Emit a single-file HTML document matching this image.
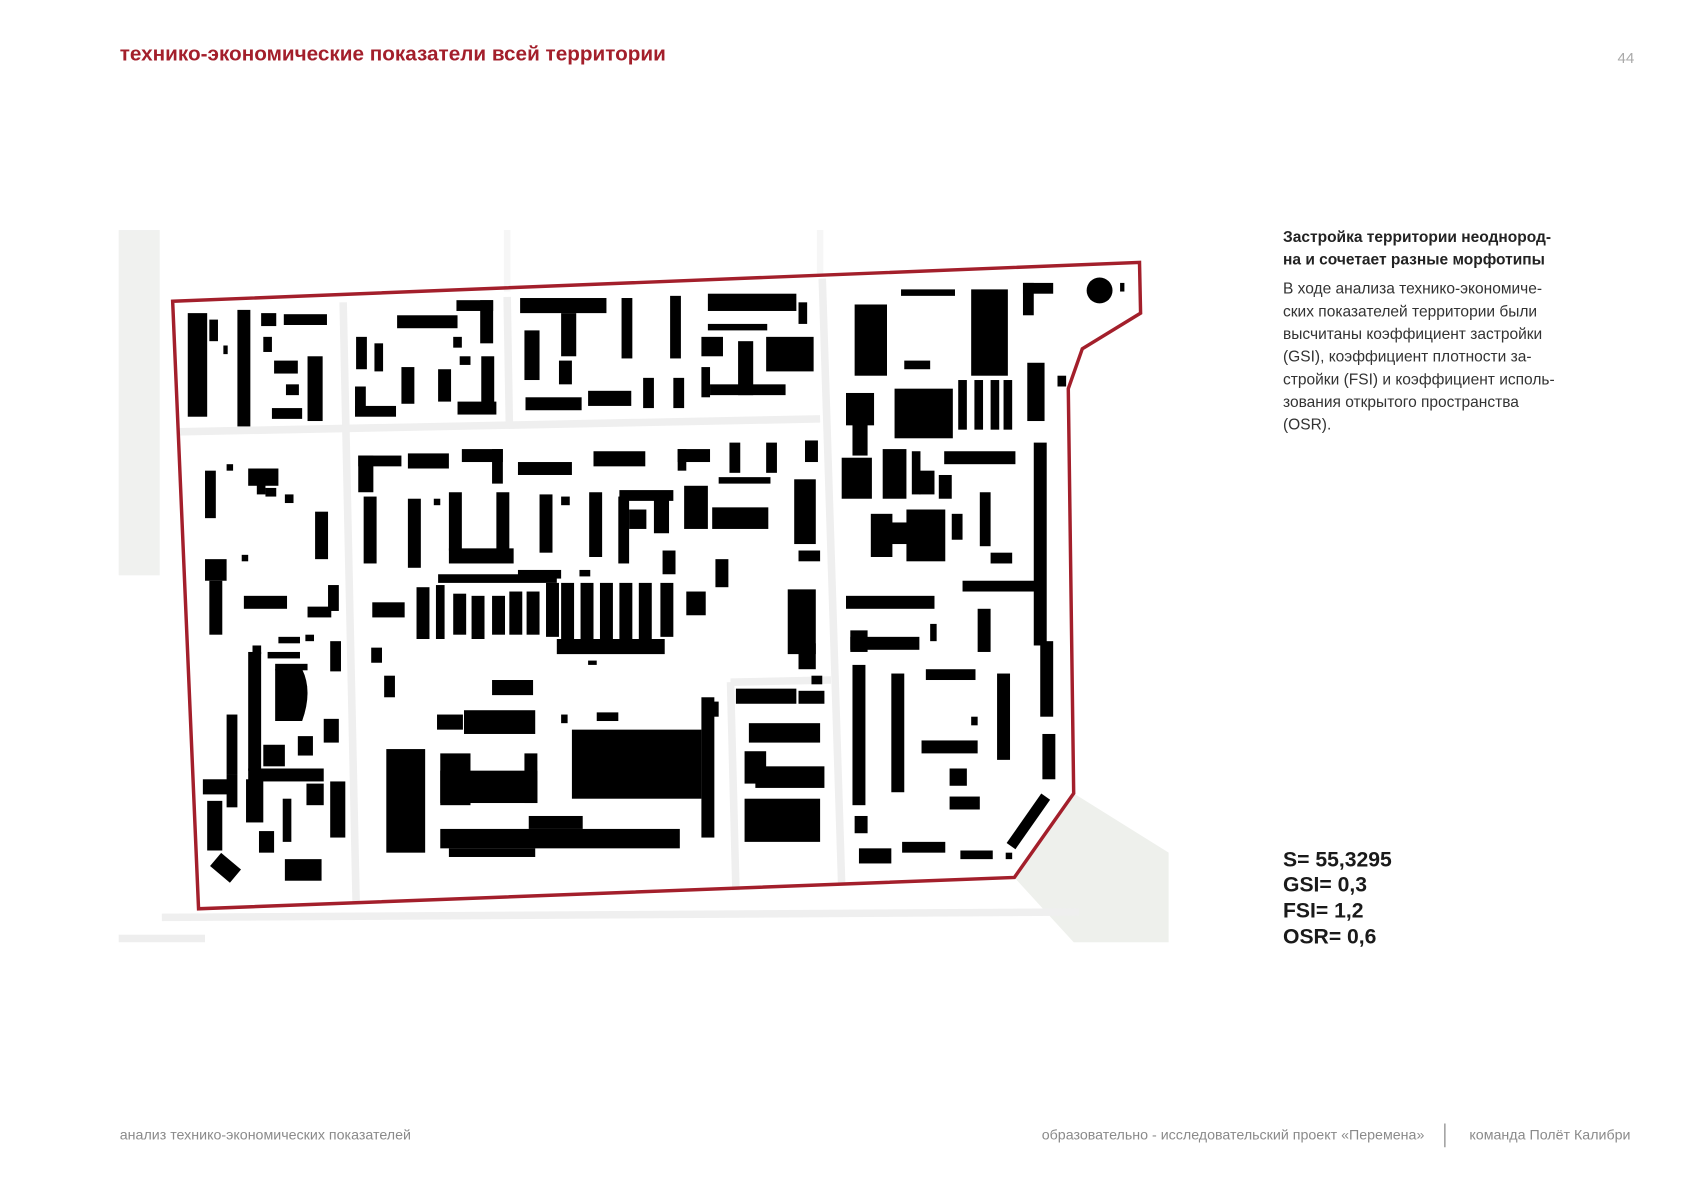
<!DOCTYPE html>
<html><head><meta charset="utf-8"><style>
html,body{margin:0;padding:0;background:#fff;}
svg{display:block;}
text{font-family:"Liberation Sans","Noto Sans CJK SC",sans-serif;}
</style></head><body>
<svg width="1692" height="1196" viewBox="0 0 1568 1108" xmlns="http://www.w3.org/2000/svg">
<rect width="1568" height="1108" fill="#fff"/>
<text x="111" y="56" font-size="19.2" font-weight="bold" fill="#a31f2b">технико-экономические показатели всей территории</text>
<text x="1499" y="58" font-size="14" fill="#aaa">44</text>

<!-- map background -->
<rect x="110" y="213" width="38" height="320" fill="#f0f1ef"/>
<polygon points="995,735 1083,790 1083,873 995,873 940,813" fill="#eef0ec"/>
<rect x="110" y="866" width="80" height="7" fill="#eee"/>
<g stroke="#efefef" stroke-width="7" fill="none">
<line x1="165" y1="400" x2="760" y2="388"/>
<line x1="318" y1="280" x2="330" y2="835"/>
<line x1="470" y1="275" x2="472" y2="392"/>
<line x1="762" y1="258" x2="780" y2="820"/>
<line x1="677" y1="632" x2="682" y2="825"/>
<line x1="677" y1="632" x2="770" y2="630"/>
<line x1="150" y1="850" x2="1000" y2="845"/>
</g>
<g stroke="#f6f6f6" stroke-width="6" fill="none">
<line x1="470" y1="213" x2="470" y2="270"/>
<line x1="760" y1="213" x2="760" y2="255"/>
</g>

<g fill="#000">
<!-- block 1 -->
<rect x="174" y="290" width="18" height="96"/><rect x="220" y="287" width="12" height="108"/>
<rect x="242" y="290" width="14" height="12"/><rect x="263" y="291" width="40" height="10"/>
<rect x="244" y="312" width="8" height="14"/><rect x="254" y="334" width="22" height="12"/>
<rect x="265" y="356" width="12" height="10"/><rect x="252" y="378" width="28" height="10"/>
<rect x="285" y="330" width="14" height="60"/><rect x="207" y="320" width="4" height="8"/>
<rect x="194" y="296" width="8" height="20"/>
<!-- block 2 -->
<rect x="368" y="292" width="56" height="12"/><rect x="423" y="278" width="34" height="10"/><rect x="445" y="278" width="12" height="40"/>
<rect x="330" y="312" width="10" height="30"/><rect x="347" y="318" width="8" height="26"/>
<rect x="329" y="358" width="10" height="26"/><rect x="329" y="376" width="38" height="10"/>
<rect x="372" y="340" width="12" height="34"/><rect x="406" y="342" width="12" height="30"/>
<rect x="426" y="330" width="10" height="8"/><rect x="446" y="330" width="12" height="50"/>
<rect x="424" y="372" width="36" height="12"/><rect x="420" y="312" width="8" height="10"/>
<!-- block 3 -->
<rect x="482" y="276" width="80" height="14"/><rect x="520" y="290" width="14" height="40"/>
<rect x="486" y="306" width="14" height="46"/><rect x="518" y="334" width="12" height="22"/>
<rect x="487" y="368" width="52" height="12"/><rect x="545" y="362" width="40" height="14"/>
<rect x="576" y="276" width="10" height="56"/><rect x="596" y="350" width="10" height="28"/>
<rect x="621" y="274" width="10" height="58"/><rect x="624" y="350" width="10" height="28"/>
<rect x="656" y="272" width="82" height="16"/><rect x="656" y="300" width="55" height="6"/>
<rect x="650" y="312" width="20" height="18"/><rect x="684" y="316" width="14" height="50"/>
<rect x="650" y="340" width="8" height="28"/><rect x="658" y="356" width="70" height="10"/>
<rect x="710" y="312" width="44" height="32"/><rect x="740" y="280" width="8" height="20"/>
<!-- block 4 -->
<rect x="792" y="282" width="30" height="66"/><rect x="835" y="268" width="50" height="6"/>
<rect x="838" y="334" width="24" height="8"/><rect x="900" y="268" width="34" height="80"/>
<rect x="948" y="262" width="28" height="10"/><rect x="948" y="262" width="10" height="30"/>
<circle cx="1019" cy="269" r="12"/><rect x="1038" y="262" width="4" height="8"/>
<rect x="829" y="360" width="54" height="46"/>
<rect x="888" y="352" width="8" height="46"/><rect x="903" y="352" width="8" height="46"/><rect x="918" y="352" width="8" height="46"/><rect x="930" y="352" width="8" height="46"/>
<rect x="952" y="336" width="16" height="54"/><rect x="980" y="348" width="8" height="10"/>
<rect x="784" y="364" width="26" height="30"/><rect x="790" y="392" width="14" height="30"/>
<rect x="780" y="424" width="28" height="38"/><rect x="818" y="416" width="22" height="46"/>
<rect x="845" y="418" width="8" height="40"/><rect x="852" y="436" width="14" height="22"/>
<rect x="875" y="418" width="66" height="12"/><rect x="870" y="440" width="12" height="22"/>
<rect x="807" y="476" width="20" height="40"/><rect x="820" y="484" width="22" height="20"/><rect x="840" y="472" width="36" height="48"/>
<rect x="882" y="476" width="10" height="24"/><rect x="908" y="456" width="10" height="50"/>
<rect x="918" y="512" width="20" height="10"/><rect x="958" y="410" width="12" height="188"/>
<rect x="892" y="538" width="70" height="10"/>
<!-- left middle -->
<rect x="210" y="430" width="6" height="6"/><rect x="230" y="434" width="28" height="16"/><rect x="238" y="434" width="8" height="24"/>
<rect x="246" y="452" width="10" height="8"/><rect x="264" y="458" width="8" height="8"/>
<rect x="190" y="436" width="10" height="44"/><rect x="292" y="474" width="12" height="44"/>
<rect x="224" y="514" width="6" height="6"/><rect x="190" y="518" width="20" height="20"/><rect x="194" y="538" width="12" height="50"/>
<rect x="226" y="552" width="40" height="12"/><rect x="285" y="562" width="22" height="10"/><rect x="304" y="542" width="10" height="24"/>
<rect x="258" y="590" width="20" height="6"/><rect x="283" y="588" width="8" height="6"/>
<rect x="234" y="598" width="8" height="8"/><rect x="248" y="604" width="30" height="6"/><rect x="255" y="615" width="30" height="6"/>
<rect x="306" y="594" width="10" height="28"/><rect x="230" y="604" width="12" height="110"/>
<path d="M255 620 H280 Q290 640 280 668 H255Z"/>
<rect x="210" y="662" width="10" height="56"/><rect x="244" y="690" width="20" height="20"/>
<rect x="276" y="682" width="14" height="18"/><rect x="300" y="666" width="14" height="22"/>
<rect x="188" y="722" width="30" height="14"/><rect x="230" y="712" width="70" height="12"/><rect x="210" y="718" width="10" height="30"/>
<rect x="192" y="742" width="14" height="46"/><rect x="228" y="722" width="16" height="40"/>
<rect x="240" y="770" width="14" height="20"/><rect x="262" y="740" width="8" height="40"/>
<rect x="284" y="726" width="16" height="20"/><rect x="306" y="724" width="14" height="52"/>
<rect x="197" y="796" width="24" height="16" transform="rotate(40 209 804)"/>
<rect x="264" y="796" width="34" height="20"/>
<!-- center -->
<rect x="332" y="422" width="40" height="10"/><rect x="332" y="422" width="14" height="34"/>
<rect x="378" y="420" width="38" height="14"/><rect x="428" y="416" width="38" height="12"/><rect x="456" y="416" width="10" height="32"/>
<rect x="480" y="428" width="50" height="12"/><rect x="550" y="418" width="48" height="14"/>
<rect x="628" y="416" width="30" height="12"/><rect x="628" y="416" width="8" height="20"/>
<rect x="676" y="410" width="10" height="28"/><rect x="710" y="410" width="10" height="28"/><rect x="746" y="408" width="12" height="20"/>
<rect x="337" y="460" width="12" height="62"/><rect x="378" y="462" width="12" height="64"/><rect x="402" y="462" width="6" height="6"/>
<rect x="416" y="456" width="12" height="54"/><rect x="416" y="508" width="60" height="14"/><rect x="460" y="456" width="12" height="54"/>
<rect x="500" y="458" width="12" height="54"/><rect x="520" y="460" width="8" height="8"/>
<rect x="546" y="456" width="12" height="60"/><rect x="573" y="460" width="10" height="62"/><rect x="583" y="472" width="16" height="18"/>
<rect x="574" y="454" width="50" height="10"/><rect x="606" y="460" width="14" height="34"/><rect x="634" y="450" width="22" height="40"/>
<rect x="660" y="470" width="52" height="20"/><rect x="666" y="442" width="48" height="6"/>
<rect x="736" y="444" width="20" height="60"/><rect x="740" y="510" width="20" height="10"/>
<rect x="614" y="510" width="12" height="22"/><rect x="663" y="518" width="12" height="26"/>
<rect x="406" y="532" width="110" height="8"/><rect x="480" y="528" width="40" height="8"/><rect x="537" y="528" width="10" height="6"/>
<rect x="386" y="544" width="12" height="48"/><rect x="404" y="542" width="8" height="50"/><rect x="420" y="550" width="12" height="38"/>
<rect x="437" y="552" width="12" height="40"/><rect x="456" y="552" width="12" height="36"/><rect x="472" y="548" width="12" height="40"/>
<rect x="488" y="548" width="12" height="40"/><rect x="506" y="540" width="12" height="50"/><rect x="520" y="540" width="12" height="60"/>
<rect x="538" y="540" width="12" height="56"/><rect x="556" y="540" width="12" height="56"/><rect x="574" y="540" width="12" height="56"/>
<rect x="592" y="540" width="12" height="56"/><rect x="612" y="540" width="12" height="50"/>
<rect x="516" y="592" width="100" height="14"/>
<rect x="345" y="558" width="30" height="14"/><rect x="344" y="600" width="10" height="14"/><rect x="356" y="626" width="10" height="20"/>
<rect x="636" y="548" width="18" height="22"/><rect x="730" y="546" width="26" height="60"/><rect x="740" y="596" width="16" height="24"/>
<rect x="545" y="612" width="8" height="4"/>
<!-- lower center -->
<rect x="456" y="630" width="38" height="14"/><rect x="405" y="662" width="24" height="14"/><rect x="430" y="658" width="66" height="22"/>
<rect x="520" y="662" width="6" height="8"/><rect x="553" y="660" width="20" height="8"/>
<rect x="358" y="694" width="36" height="96"/>
<rect x="408" y="698" width="28" height="48"/><rect x="408" y="714" width="90" height="30"/><rect x="486" y="698" width="12" height="46"/>
<rect x="530" y="676" width="120" height="64"/><rect x="650" y="646" width="12" height="130"/><rect x="656" y="650" width="10" height="14"/>
<rect x="408" y="768" width="222" height="18"/><rect x="490" y="756" width="50" height="12"/><rect x="416" y="786" width="80" height="8"/>
<!-- right lower -->
<rect x="682" y="638" width="56" height="14"/><rect x="740" y="640" width="24" height="12"/>
<rect x="694" y="670" width="66" height="18"/><rect x="690" y="696" width="20" height="30"/>
<rect x="700" y="710" width="64" height="20"/><rect x="690" y="740" width="70" height="40"/><rect x="752" y="626" width="10" height="8"/>
<!-- right bottom -->
<rect x="784" y="552" width="82" height="12"/><rect x="788" y="584" width="16" height="20"/><rect x="788" y="590" width="64" height="12"/>
<rect x="862" y="578" width="6" height="16"/><rect x="906" y="564" width="12" height="40"/>
<rect x="790" y="616" width="12" height="130"/><rect x="826" y="624" width="12" height="110"/>
<rect x="858" y="620" width="46" height="10"/><rect x="854" y="686" width="52" height="12"/>
<rect x="880" y="712" width="16" height="16"/><rect x="880" y="738" width="28" height="12"/><rect x="900" y="664" width="6" height="8"/>
<rect x="924" y="624" width="12" height="80"/><rect x="964" y="594" width="12" height="70"/><rect x="966" y="680" width="12" height="42"/>
<rect x="792" y="756" width="12" height="16"/><rect x="796" y="786" width="30" height="14"/>
<rect x="836" y="780" width="40" height="10"/><rect x="890" y="788" width="30" height="8"/>
<rect x="925" y="756" width="56" height="10" transform="rotate(-55 953 761)"/>
<rect x="932" y="790" width="6" height="6"/>
</g>

<polygon points="160,279 1056,243 1057,290 1003,323 990,360 995,735 940,813 184,842" fill="none" stroke="#a31f2b" stroke-width="3.2" stroke-linejoin="miter"/>

<!-- right text -->
<g font-size="14.4" fill="#333">
<text x="1189" y="224" font-weight="bold" fill="#222">Застройка территории неоднород-</text>
<text x="1189" y="245" font-weight="bold" fill="#222">на и сочетает разные морфотипы</text>
<text x="1189" y="272">В ходе анализа технико-экономиче-</text>
<text x="1189" y="293">ских показателей территории были</text>
<text x="1189" y="314">высчитаны коэффициент застройки</text>
<text x="1189" y="335">(GSI), коэффициент плотности за-</text>
<text x="1189" y="356">стройки (FSI) и коэффициент исполь-</text>
<text x="1189" y="377">зования открытого пространства</text>
<text x="1189" y="398">(OSR).</text>
</g>
<g font-size="19.6" font-weight="bold" fill="#1a1a1a">
<text x="1189" y="803">S= 55,3295</text>
<text x="1189" y="826">GSI= 0,3</text>
<text x="1189" y="850">FSI= 1,2</text>
<text x="1189" y="874">OSR= 0,6</text>
</g>
<!-- footer -->
<g font-size="13.2" fill="#8a8a8a">
<text x="111" y="1056">анализ технико-экономических показателей</text>
<text x="1320" y="1056" text-anchor="end">образовательно - исследовательский проект «Перемена»</text>
<text x="1511" y="1056" text-anchor="end">команда Полёт Калибри</text>
</g>
<line x1="1339" y1="1041" x2="1339" y2="1063" stroke="#777" stroke-width="1"/>
</svg>
</body></html>
